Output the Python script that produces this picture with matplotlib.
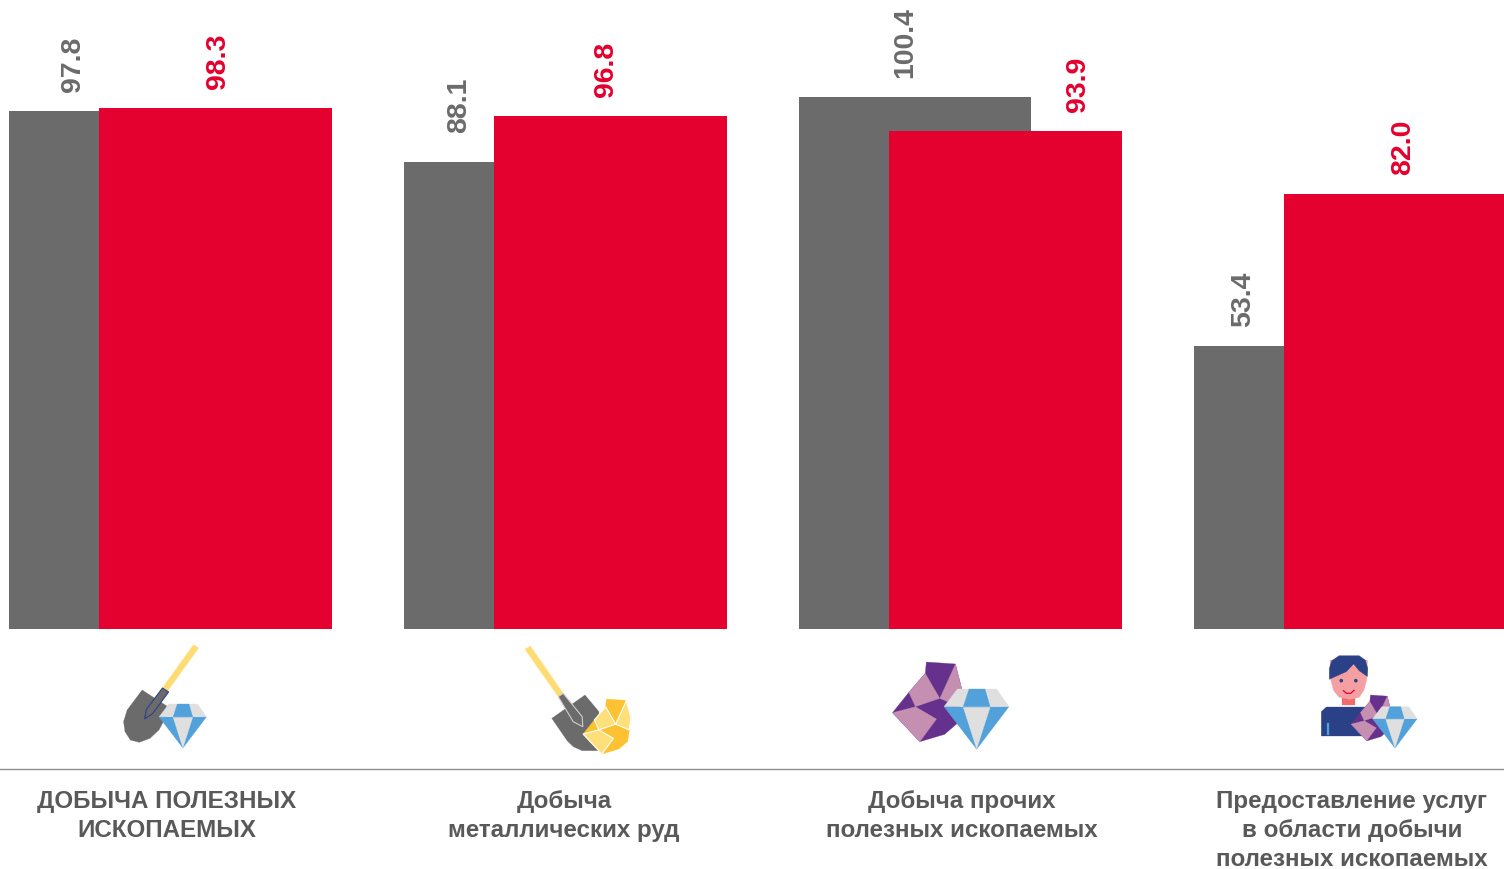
import matplotlib
matplotlib.use('Agg')
import matplotlib.pyplot as plt
from matplotlib.patches import Polygon, Ellipse

plt.rcParams['font.family'] = ['Liberation Sans', 'DejaVu Sans']

categories = ['ДОБЫЧА ПОЛЕЗНЫХ\nИСКОПАЕМЫХ',
              'Добыча\nметаллических руд',
              'Добыча прочих\nполезных ископаемых',
              'Предоставление услуг\nв области добычи\nполезных ископаемых']
grey_values = [97.8, 88.1, 100.4, 53.4]
red_values = [98.3, 96.8, 93.9, 82.0]

GREY = '#6b6b6b'
RED = '#e4002f'
W, H = 1504, 869
BASE = 629      # pixel row of the bars' baseline
PX_PER_UNIT = 5.3
STEP = 395      # pixels between groups

fig = plt.figure(figsize=(W / 100, H / 100), dpi=100)

# bars
ax = fig.add_axes([0, (H - BASE) / H, 1, BASE / H])
ax.set_xlim(-170 / STEP, (W - 170) / STEP)
ax.set_ylim(0, BASE / PX_PER_UNIT)
ax.axis('off')
bar_w = 232.5 / STEP
off = 45.25 / STEP
for i in range(4):
    ax.bar(i - off, grey_values[i], bar_w, color=GREY, zorder=2)
    ax.bar(i + off, red_values[i], bar_w, color=RED, zorder=3)

# value labels sit off-centre on the bars, pixel nudges
grey_nudge = [-52, -61, -10, -67]
grey_lift = [19, 29, 19, 19]
red_nudge = [3, -4, 73, 3]
for i in range(4):
    ax.annotate('%.1f' % grey_values[i], xy=(i - off, grey_values[i]), xytext=(grey_nudge[i], grey_lift[i]),
                textcoords='offset pixels', rotation=90, ha='center', va='bottom',
                fontsize=20.5, fontweight='bold', color=GREY, zorder=5)
    ax.annotate('%.1f' % red_values[i], xy=(i + off, red_values[i]), xytext=(red_nudge[i], 19),
                textcoords='offset pixels', rotation=90, ha='center', va='bottom',
                fontsize=20.5, fontweight='bold', color=RED, zorder=5)

# overlay in pixel coordinates for the rule, the captions and the icons
ov = fig.add_axes([0, 0, 1, 1])
ov.set_xlim(0, W)
ov.set_ylim(H, 0)
ov.axis('off')
ov.patch.set_alpha(0)

ov.plot([0, W], [769.3, 769.3], color='#8c8c8c', lw=1)

label_x = [166.5, 564, 961.5, 1352]
for x, lab in zip(label_x, categories):
    ov.text(x, 790, lab, ha='center', va='top', fontsize=17.4, fontweight='bold',
            color='#595959', linespacing=1.33)


def poly(pts, color, ox=0, oy=0, sx=1 / 2.75, sy=1 / 3, edge=None, lw=0):
    xy = [(ox + px * sx, oy + py * sy) for px, py in pts]
    ov.add_patch(Polygon(xy, closed=True, facecolor=color, edgecolor=edge or color,
                         lw=lw if edge else 0.2))


def diamond(left, top, width):
    # drawn from the large diamond, 179 units wide
    sx = width / 179
    sy = sx * 2.75 / 3
    ox, oy = left - 203 * sx, top - 147 * sy
    k = dict(ox=ox, oy=oy, sx=sx, sy=sy)
    blue, pale = '#52a1db', '#e0dfdf'
    poly([(203, 200), (382, 200), (293, 328)], blue, **k)
    poly([(256, 202), (330, 202), (293, 328)], pale, **k)
    poly([(240, 147), (348, 147), (382, 200), (203, 200)], pale, **k)
    poly([(272, 147), (316, 147), (330, 200), (256, 200)], blue, **k)


def rock(left, top, width, dark, light, edge=None):
    sx = width / 191
    sy = sx * 2.75 / 3
    ox, oy = left - 62 * sx, top - 66 * sy
    k = dict(ox=ox, oy=oy, sx=sx, sy=sy)
    poly([(155, 66), (235, 72), (253, 150), (240, 250), (205, 283), (137, 305), (62, 218),
          (107, 157), (152, 100)], dark, **k)
    e = dict(edge=edge, lw=0.8) if edge else {}
    poly([(235, 72), (253, 150), (245, 200), (192, 175)], light, **k, **e)
    poly([(152, 100), (192, 175), (125, 200), (107, 157)], light, **k, **e)
    poly([(62, 218), (125, 200), (183, 237), (137, 305)], light, **k, **e)


# icon 1: shovel and diamond
k1 = dict(ox=100, oy=630, sx=1 / 2.8, sy=1 / 3)
poly([(262, 44), (276, 54), (190, 182), (176, 172)], '#ffdc73', **k1)
poly([(118, 180), (187, 228), (180, 270), (165, 300), (140, 325), (110, 337), (85, 330), (70, 305),
      (66, 275), (76, 240)], GREY, **k1)
poly([(175, 174), (192, 186), (148, 250), (125, 267), (130, 238)], GREY, edge='#2a4188', lw=0.8, **k1)
diamond(159, 704, 47.5)

# icon 2: shovel and gold nugget
poly([(1190, 58), (1205, 48), (1297, 190), (1283, 200)], '#ffdc73', **k1)
poly([(1358, 195), (1397, 245), (1395, 362), (1350, 362), (1325, 350), (1308, 332), (1265, 265)], GREY, **k1)
poly([(1283, 200), (1297, 190), (1350, 260), (1352, 290), (1325, 275)], GREY, edge='#cfcfcf', lw=0.8, **k1)
rock(583, 699, 48, '#fdc232', '#ffdf7a', edge='white')

# icon 3: purple rock and diamond
rock(892.5, 662, 69.5, '#65318c', '#c48fb0')
diamond(944, 689, 65)

# icon 4: miner with rock and diamond
k2 = dict(ox=870, oy=640)
poly([(1241, 215), (1255, 201), (1375, 201), (1375, 288), (1241, 288)], '#2a4188', **k2)
poly([(1257, 250), (1263, 250), (1263, 285), (1257, 285)], '#52a1db', **k2)
poly([(1299, 170), (1334, 170), (1334, 194), (1299, 194)], '#f06c6c', **k2)
poly([(1265, 60), (1368, 60), (1366, 120), (1358, 152), (1345, 172), (1320, 178), (1290, 172), (1275, 152),
      (1267, 120)], '#f4a0a2', **k2)
poly([(1263, 85), (1270, 62), (1290, 47), (1345, 47), (1362, 60), (1369, 85), (1368, 110), (1345, 92),
      (1330, 72), (1310, 95), (1263, 118)], '#2a4188', **k2)
for ex in (1296, 1336):
    ov.add_patch(Ellipse((870 + ex / 2.75, 640 + 122 / 3), 3.6, 3.6, color='#2a4188', lw=0))
ov.plot([870 + 1302 / 2.75, 870 + 1310 / 2.75, 870 + 1322 / 2.75, 870 + 1331 / 2.75],
        [640 + 152 / 3, 640 + 160 / 3, 640 + 160 / 3, 640 + 151 / 3], color=RED, lw=0.9)
rock(1351, 695, 40, '#65318c', '#c48fb0')
diamond(1372.5, 706.7, 44.7)

fig.savefig('out.png', dpi=100)
